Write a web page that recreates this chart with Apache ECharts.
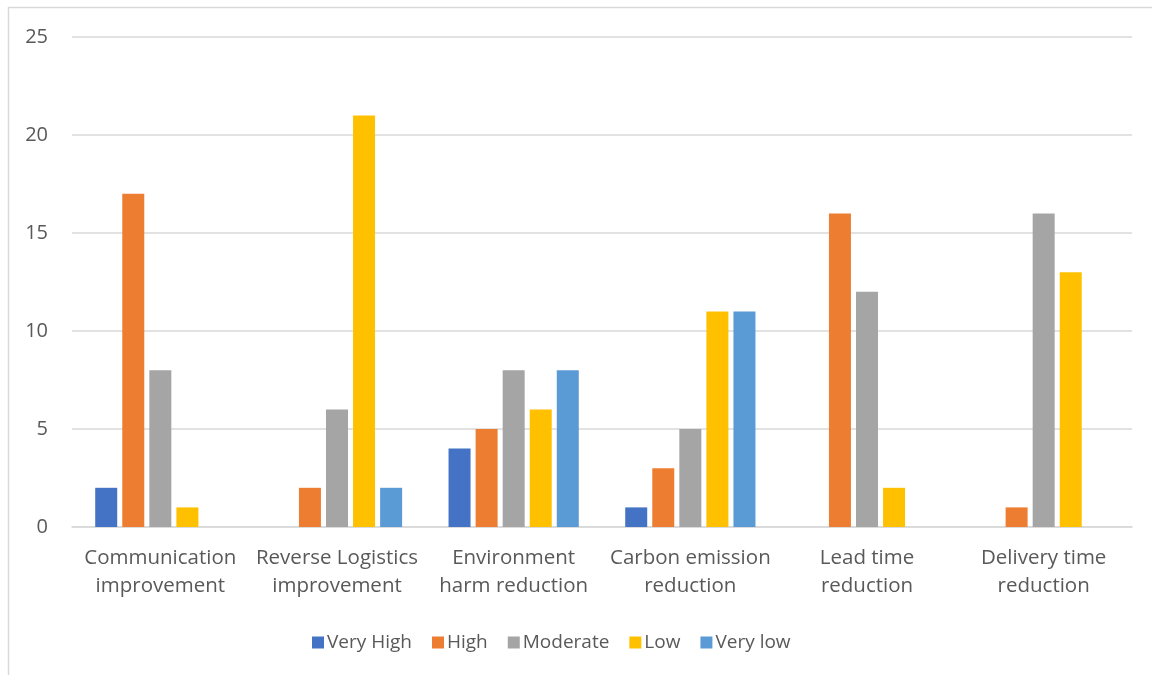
<!DOCTYPE html>
<html>
<head>
<meta charset="utf-8">
<script src="https://cdn.jsdelivr.net/npm/echarts@6/dist/echarts.min.js"></script>
<style>
  html, body { margin: 0; padding: 0; background: #fff; }
  #chart { width: 1152px; height: 675px; }
</style>
</head>
<body>
<div id="chart"></div>
<script>
// Survey responses per benefit area, grouped by rating
const categories = [
  'Communication\nimprovement',
  'Reverse Logistics\nimprovement',
  'Environment\nharm reduction',
  'Carbon emission\nreduction',
  'Lead time\nreduction',
  'Delivery time\nreduction'
];
const seriesNames = ['Very High', 'High', 'Moderate', 'Low', 'Very low'];
const veryHigh = [2, 0, 4, 1, 0, 0];
const high     = [17, 2, 5, 3, 16, 1];
const moderate = [8, 6, 8, 5, 12, 16];
const low      = [1, 21, 6, 11, 2, 13];
const veryLow  = [0, 2, 8, 11, 0, 0];
const yTicks = [0, 5, 10, 15, 20, 25];

const colors = ['#4472C4', '#ED7D31', '#A5A5A5', '#FFC000', '#5B9BD5'];
const values = [veryHigh, high, moderate, low, veryLow];
const font = '"Open Sans", "Liberation Sans", sans-serif';

const chart = echarts.init(document.getElementById('chart'));
chart.setOption({
  animation: false,
  color: colors,
  textStyle: { fontFamily: font },
  graphic: [{
    type: 'rect',
    shape: { x: 8.5, y: 7.5, width: 1200, height: 700 },
    style: { fill: 'none', stroke: '#d9d9d9', lineWidth: 1.5 },
    silent: true,
    z: -1
  }],
  grid: { left: 72, right: 20, top: 37, bottom: 148, containLabel: false },
  legend: {
    left: 307,
    top: 628,
    itemWidth: 12,
    itemHeight: 12,
    itemGap: 20,
    icon: 'rect',
    textStyle: { fontSize: 19, color: '#595959', fontFamily: font, padding: [0, 0, 0, -2] },
    data: seriesNames
  },
  xAxis: {
    type: 'category',
    data: categories,
    axisLine: { lineStyle: { color: '#d9d9d9', width: 1.5 } },
    axisTick: { show: false },
    axisLabel: {
      interval: 0,
      margin: 17,
      fontSize: 20.5,
      lineHeight: 28,
      color: '#595959',
      fontFamily: font
    }
  },
  yAxis: {
    type: 'value',
    min: yTicks[0],
    max: yTicks[yTicks.length - 1],
    interval: 5,
    axisLine: { show: false },
    axisTick: { show: false },
    axisLabel: { margin: 24, fontSize: 20, color: '#595959', fontFamily: font },
    splitLine: { lineStyle: { color: '#d9d9d9', width: 1.5 } }
  },
  series: seriesNames.map((name, i) => ({
    name: name,
    type: 'bar',
    data: values[i],
    barWidth: 22,
    barGap: '23%',
    itemStyle: { color: colors[i] }
  }))
});
</script>
</body>
</html>
